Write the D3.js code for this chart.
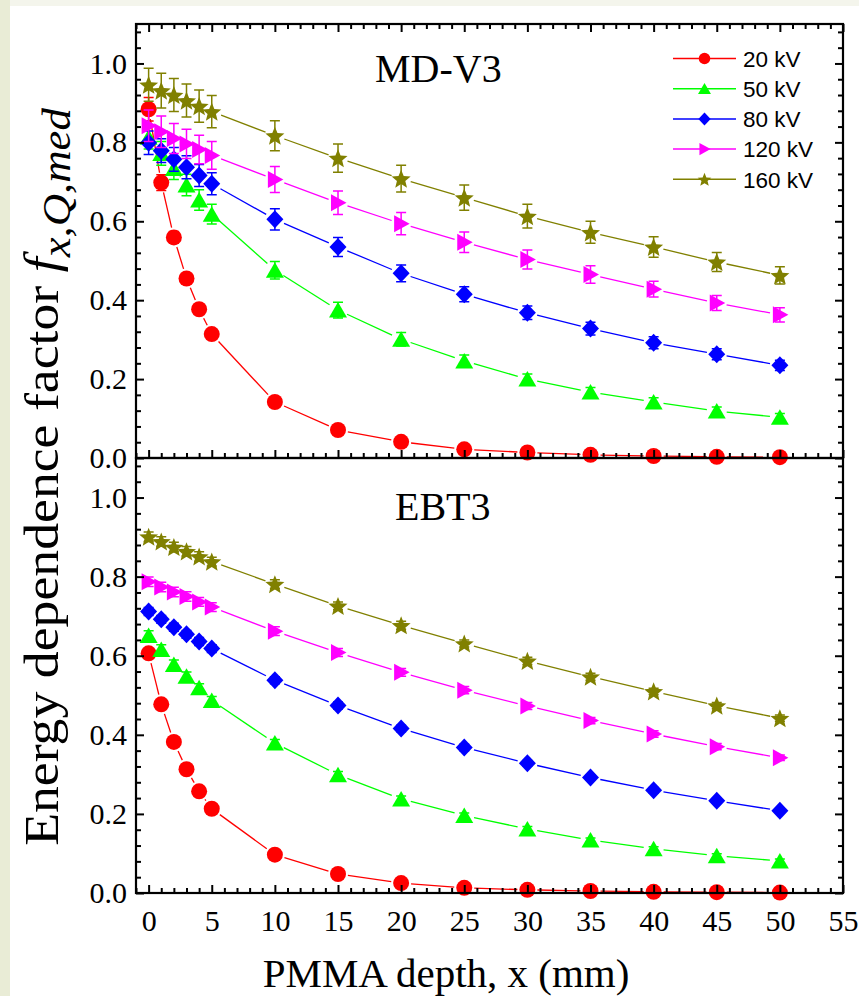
<!DOCTYPE html>
<html>
<head>
<meta charset="utf-8">
<script src="https://cdn.jsdelivr.net/npm/d3@7"></script>
<style>
  body { margin: 0; background: #e9ecd6; }
  svg { display: block; }
</style>
</head>
<body>
<script>
// depth in PMMA (mm)
const depth = [0, 1, 2, 3, 4, 5, 10, 15, 20, 25, 30, 35, 40, 45, 50];
const energies = ["20 kV", "50 kV", "80 kV", "120 kV", "160 kV"];
const colors = ["#ff0000", "#00ff00", "#0000ff", "#ff00ff", "#808000"];
const shapes = ["circle", "triangle", "diamond", "right", "star"];

// MD-V3 panel
const md20  = [0.884, 0.698, 0.559, 0.455, 0.377, 0.314, 0.142, 0.071, 0.041, 0.022, 0.014, 0.008, 0.005, 0.003, 0.002];
const md50  = [0.813, 0.772, 0.734, 0.692, 0.654, 0.618, 0.476, 0.375, 0.301, 0.246, 0.200, 0.167, 0.142, 0.119, 0.103];
const md80  = [0.799, 0.779, 0.757, 0.737, 0.716, 0.695, 0.605, 0.535, 0.468, 0.415, 0.368, 0.328, 0.292, 0.263, 0.235];
const md120 = [0.842, 0.827, 0.810, 0.796, 0.782, 0.767, 0.706, 0.647, 0.594, 0.547, 0.503, 0.465, 0.428, 0.393, 0.363];
const md160 = [0.946, 0.931, 0.920, 0.906, 0.892, 0.878, 0.817, 0.760, 0.708, 0.660, 0.613, 0.572, 0.535, 0.497, 0.463];

const mdErr20  = [0.030, 0.020, 0.015, 0.012, 0.010, 0.010, 0.008, 0.006, 0.005, 0.004, 0.003, 0.003, 0.002, 0.002, 0.002];
const mdErr50  = [0.030, 0.030, 0.028, 0.027, 0.026, 0.025, 0.022, 0.020, 0.017, 0.015, 0.013, 0.012, 0.011, 0.010, 0.010];
const mdErr80  = [0.030, 0.030, 0.030, 0.029, 0.028, 0.028, 0.027, 0.024, 0.021, 0.019, 0.017, 0.016, 0.015, 0.014, 0.013];
const mdErr120 = [0.040, 0.040, 0.038, 0.037, 0.036, 0.035, 0.033, 0.030, 0.028, 0.026, 0.024, 0.022, 0.020, 0.019, 0.018];
const mdErr160 = [0.042, 0.044, 0.042, 0.042, 0.041, 0.041, 0.038, 0.036, 0.034, 0.032, 0.030, 0.028, 0.026, 0.024, 0.022];

// EBT3 panel
const eb20  = [0.606, 0.477, 0.382, 0.313, 0.257, 0.213, 0.097, 0.048, 0.025, 0.013, 0.008, 0.005, 0.003, 0.002, 0.001];
const eb50  = [0.651, 0.616, 0.578, 0.548, 0.519, 0.487, 0.379, 0.299, 0.238, 0.196, 0.162, 0.134, 0.112, 0.094, 0.081];
const eb80  = [0.712, 0.692, 0.672, 0.654, 0.636, 0.618, 0.538, 0.474, 0.416, 0.368, 0.328, 0.292, 0.260, 0.233, 0.208];
const eb120 = [0.787, 0.774, 0.761, 0.750, 0.736, 0.723, 0.662, 0.608, 0.558, 0.513, 0.473, 0.436, 0.402, 0.370, 0.342];
const eb160 = [0.901, 0.889, 0.875, 0.864, 0.851, 0.838, 0.781, 0.726, 0.677, 0.631, 0.587, 0.547, 0.510, 0.474, 0.442];

const ebErr20  = [0.006, 0.005, 0.004, 0.004, 0.003, 0.003, 0.002, 0.002, 0.001, 0.001, 0.001, 0.001, 0.001, 0.001, 0.001];
const ebErr50  = [0.012, 0.012, 0.011, 0.011, 0.010, 0.010, 0.009, 0.008, 0.007, 0.006, 0.006, 0.005, 0.005, 0.005, 0.005];
const ebErr80  = [0.010, 0.010, 0.010, 0.010, 0.010, 0.010, 0.009, 0.009, 0.008, 0.008, 0.007, 0.007, 0.007, 0.006, 0.006];
const ebErr120 = [0.012, 0.012, 0.012, 0.012, 0.011, 0.011, 0.011, 0.010, 0.010, 0.009, 0.009, 0.008, 0.008, 0.008, 0.007];
const ebErr160 = [0.012, 0.012, 0.012, 0.012, 0.012, 0.011, 0.011, 0.010, 0.010, 0.009, 0.009, 0.009, 0.008, 0.008, 0.008];

const xTicks = [0, 5, 10, 15, 20, 25, 30, 35, 40, 45, 50, 55];
const yTicks = [0, 0.2, 0.4, 0.6, 0.8, 1.0];

const panels = [
  {label: "MD-V3", series: [md20, md50, md80, md120, md160],
   errors: [mdErr20, mdErr50, mdErr80, mdErr120, mdErr160]},
  {label: "EBT3", series: [eb20, eb50, eb80, eb120, eb160],
   errors: [ebErr20, ebErr50, ebErr80, ebErr120, ebErr160]}
];

const W = 859, H = 996;
const plotLeft = 136, plotRight = 843, plotTop = 24, plotMid = 458, plotBottom = 893;
const serif = "'Liberation Serif', 'Times New Roman', serif";
const sans = "'Liberation Sans', Arial, sans-serif";

const svg = d3.select("body").append("svg")
    .attr("width", W)
    .attr("height", H);

svg.append("rect").attr("x", 10).attr("y", 0).attr("width", W - 10).attr("height", 6).attr("fill", "#f4f5ec");
svg.append("rect").attr("x", 10).attr("y", 6).attr("width", W - 10).attr("height", H - 6).attr("fill", "#fff");

const x = d3.scaleLinear().domain([-1, 55]).range([plotLeft, plotRight]);
const xMinor = d3.range(-1, 56, 1).filter(v => v % 5 !== 0);
const yMinor = d3.range(0, 1.1, 0.04).map(v => +v.toFixed(2)).filter(v => Math.round(v * 100) % 20 !== 0);

function symbolPath(shape, k) {
  if (shape === "circle") return d3.symbol(d3.symbolCircle, Math.PI * 64 * k * k)();
  if (shape === "triangle") return `M0,${-8 * k}L${9 * k},${7.5 * k}L${-9 * k},${7.5 * k}Z`;
  if (shape === "diamond") return `M0,${-9 * k}L${8.5 * k},0L0,${9 * k}L${-8.5 * k},0Z`;
  if (shape === "right") return `M${-7 * k},${-8.5 * k}L${8.5 * k},0L${-7 * k},${8.5 * k}Z`;
  // star
  const R = 10 * k, r = 4.4 * k;
  const pts = d3.range(10).map(i => {
    const a = -Math.PI / 2 + i * Math.PI / 5, rr = i % 2 ? r : R;
    return [rr * Math.cos(a), rr * Math.sin(a) + 1 * k];
  });
  return "M" + pts.join("L") + "Z";
}

function styleText(sel, size) {
  sel.selectAll("text")
      .style("font-family", serif)
      .style("font-size", size + "px")
      .attr("fill", "#000");
}

panels.forEach((p, pi) => {
  const y0 = pi === 0 ? plotMid : plotBottom, y1 = pi === 0 ? plotTop : plotMid;
  const y = d3.scaleLinear().domain([0, 1.1]).range([y0, y1]);
  const g = svg.append("g");

  // error bars, lines, symbols
  p.series.forEach((vals, si) => {
    const col = colors[si];
    const errs = p.errors[si];
    const sg = g.append("g");

    // connecting lines, stopped short of the symbols
    const pts = depth.map((d, i) => [x(d), y(vals[i])]);
    const gap = 10;
    d3.pairs(pts).forEach(([a, b]) => {
      const dx = b[0] - a[0], dy = b[1] - a[1], len = Math.hypot(dx, dy);
      if (len <= 2 * gap) return;
      const ux = dx / len, uy = dy / len;
      sg.append("line")
          .attr("x1", a[0] + ux * gap).attr("y1", a[1] + uy * gap)
          .attr("x2", b[0] - ux * gap).attr("y2", b[1] - uy * gap)
          .attr("stroke", col)
          .attr("stroke-width", 1.3);
    });

    sg.selectAll(".err")
        .data(depth.map((d, i) => ({d, v: vals[i], e: errs[i]})))
      .enter().append("path")
        .attr("d", o => {
          const cx = x(o.d), ya = y(o.v + o.e), yb = y(o.v - o.e);
          return `M${cx},${ya}V${yb}M${cx - 5},${ya}H${cx + 5}M${cx - 5},${yb}H${cx + 5}`;
        })
        .attr("fill", "none")
        .attr("stroke", col)
        .attr("stroke-width", 1.5);

    sg.selectAll(".sym")
        .data(depth.map((d, i) => ({d, v: vals[i]})))
      .enter().append("path")
        .attr("transform", o => `translate(${x(o.d)},${y(o.v)})`)
        .attr("d", symbolPath(shapes[si], 1))
        .attr("fill", col);
  });

  // axes: ticks point inward
  const leftMajor = g.append("g").attr("transform", `translate(${plotLeft},0)`)
      .call(d3.axisLeft(y).tickValues(yTicks).tickFormat(d3.format(".1f"))
            .tickSizeInner(-8).tickSizeOuter(0).tickPadding(9));
  styleText(leftMajor, 30);
  g.append("g").attr("transform", `translate(${plotLeft},0)`)
      .call(d3.axisLeft(y).tickValues(yMinor).tickFormat("").tickSizeInner(-5).tickSizeOuter(0));
  g.append("g").attr("transform", `translate(${plotRight},0)`)
      .call(d3.axisRight(y).tickValues(yTicks).tickFormat("").tickSizeInner(-8).tickSizeOuter(0));
  g.append("g").attr("transform", `translate(${plotRight},0)`)
      .call(d3.axisRight(y).tickValues(yMinor).tickFormat("").tickSizeInner(-5).tickSizeOuter(0));

  const xb = g.append("g").attr("transform", `translate(0,${y0})`)
      .call(d3.axisBottom(x).tickValues(xTicks).tickFormat(pi === 1 ? d3.format("d") : "")
            .tickSizeInner(-8).tickSizeOuter(0).tickPadding(10));
  styleText(xb, 30);
  xb.selectAll("text").attr("dy", "0.92em");
  g.append("g").attr("transform", `translate(0,${y0})`)
      .call(d3.axisBottom(x).tickValues(xMinor).tickFormat("").tickSizeInner(-5).tickSizeOuter(0));

  if (pi === 0) {
    g.append("g").attr("transform", `translate(0,${y1})`)
        .call(d3.axisTop(x).tickValues(xTicks).tickFormat("").tickSizeInner(-8).tickSizeOuter(0));
    g.append("g").attr("transform", `translate(0,${y1})`)
        .call(d3.axisTop(x).tickValues(xMinor).tickFormat("").tickSizeInner(-5).tickSizeOuter(0));
  }

  g.selectAll(".tick line").attr("stroke", "#000").attr("stroke-width", 2);
  g.selectAll(".domain").remove();

  g.append("rect")
      .attr("x", plotLeft).attr("y", y1)
      .attr("width", plotRight - plotLeft).attr("height", y0 - y1)
      .attr("fill", "none")
      .attr("stroke", "#000")
      .attr("stroke-width", 2.2);

  g.append("text")
      .attr("x", pi === 0 ? 375 : 395)
      .attr("y", pi === 0 ? 82 : 520)
      .style("font-family", serif)
      .style("font-size", "40px")
      .text(p.label);
});

// legend
const legend = svg.append("g");
energies.forEach((name, i) => {
  const cy = 58.5 + i * 30.2;
  legend.append("line")
      .attr("x1", 673).attr("x2", 736)
      .attr("y1", cy).attr("y2", cy)
      .attr("stroke", colors[i])
      .attr("stroke-width", 1.5);
  legend.append("path")
      .attr("transform", `translate(704.5,${cy})`)
      .attr("d", symbolPath(shapes[i], 0.72))
      .attr("fill", colors[i]);
  legend.append("text")
      .attr("x", 743).attr("y", cy + 8.3)
      .style("font-family", sans)
      .style("font-size", "22.5px")
      .text(name);
});

// axis titles
svg.append("text")
    .attr("x", 446).attr("y", 987)
    .attr("text-anchor", "middle")
    .style("font-family", serif)
    .style("font-size", "41px")
    .text("PMMA depth, x (mm)");

const yt = svg.append("text")
    .attr("transform", "translate(58,477) rotate(-90) scale(1.12,1)")
    .attr("text-anchor", "middle")
    .style("font-family", serif)
    .style("font-size", "48px");
yt.append("tspan").text("Energy dependence factor ");
yt.append("tspan").attr("font-style", "italic").text("f");
yt.append("tspan").attr("font-style", "italic").style("font-size", "40px").attr("dy", 12).text("x,Q,med");
</script>
</body>
</html>
